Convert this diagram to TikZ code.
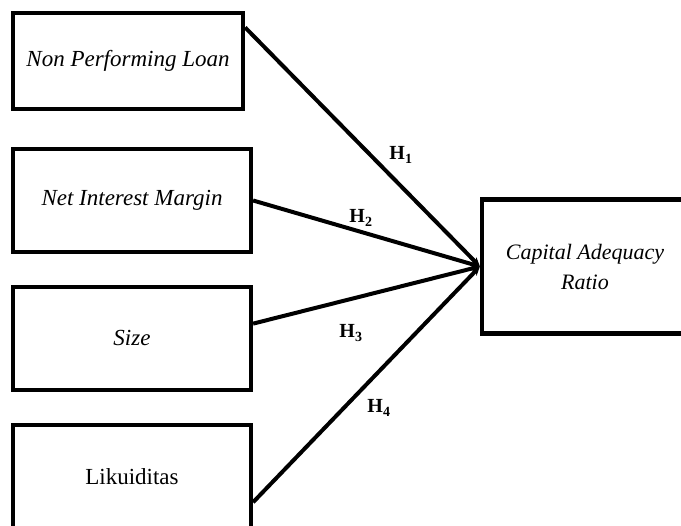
\documentclass[tikz,border=0pt]{standalone}
\usepackage{fontspec}
\setmainfont{Liberation Serif}
\usetikzlibrary{arrows.meta}

\tikzset{
	varbox/.style={draw,line width=4.2pt,inner sep=0pt,align=center,
		font=\fontsize{23}{30}\selectfont},
	hypo/.style={-{Stealth[length=9pt,width=8pt]},line width=4pt},
	hlabel/.style={font=\fontsize{20}{24}\selectfont\bfseries}
}

\begin{document}
\begin{tikzpicture}[x=1pt,y=-1pt]
	\path[use as bounding box] (0,0) rectangle (681,526);
	\node[varbox,minimum width=230pt,minimum height=96pt] (npl) at (128,61)
		{\textit{Non Performing Loan}};
	\node[varbox,minimum width=238pt,minimum height=103pt] (nim) at (132,200.5)
		{\textit{Net Interest Margin}};
	\node[varbox,minimum width=238pt,minimum height=103pt] (size) at (132,338.5)
		{\textit{Size}};
	\node[varbox,minimum width=238pt,minimum height=103pt] (liq) at (132,476.5)
		{Likuiditas};
	\node[varbox,minimum width=206pt,minimum height=134pt,
		font=\fontsize{22}{30}\selectfont] (car) at (585,266.5)
		{\textit{Capital Adequacy}\\\textit{Ratio}};

	\draw[hypo] (npl.16) -- (car.west);
	\draw[hypo] (nim.east) -- (car.west);
	\draw[hypo] (size.7) -- (car.west);
	\draw[hypo] (liq.-12) -- (car.west);

	\node[hlabel] (h1) at (401,155) {H\textsubscript{1}};
	\node[hlabel] (h2) at (361,218) {H\textsubscript{2}};
	\node[hlabel] (h3) at (351,333) {H\textsubscript{3}};
	\node[hlabel] (h4) at (379,408) {H\textsubscript{4}};
\end{tikzpicture}
\end{document}
